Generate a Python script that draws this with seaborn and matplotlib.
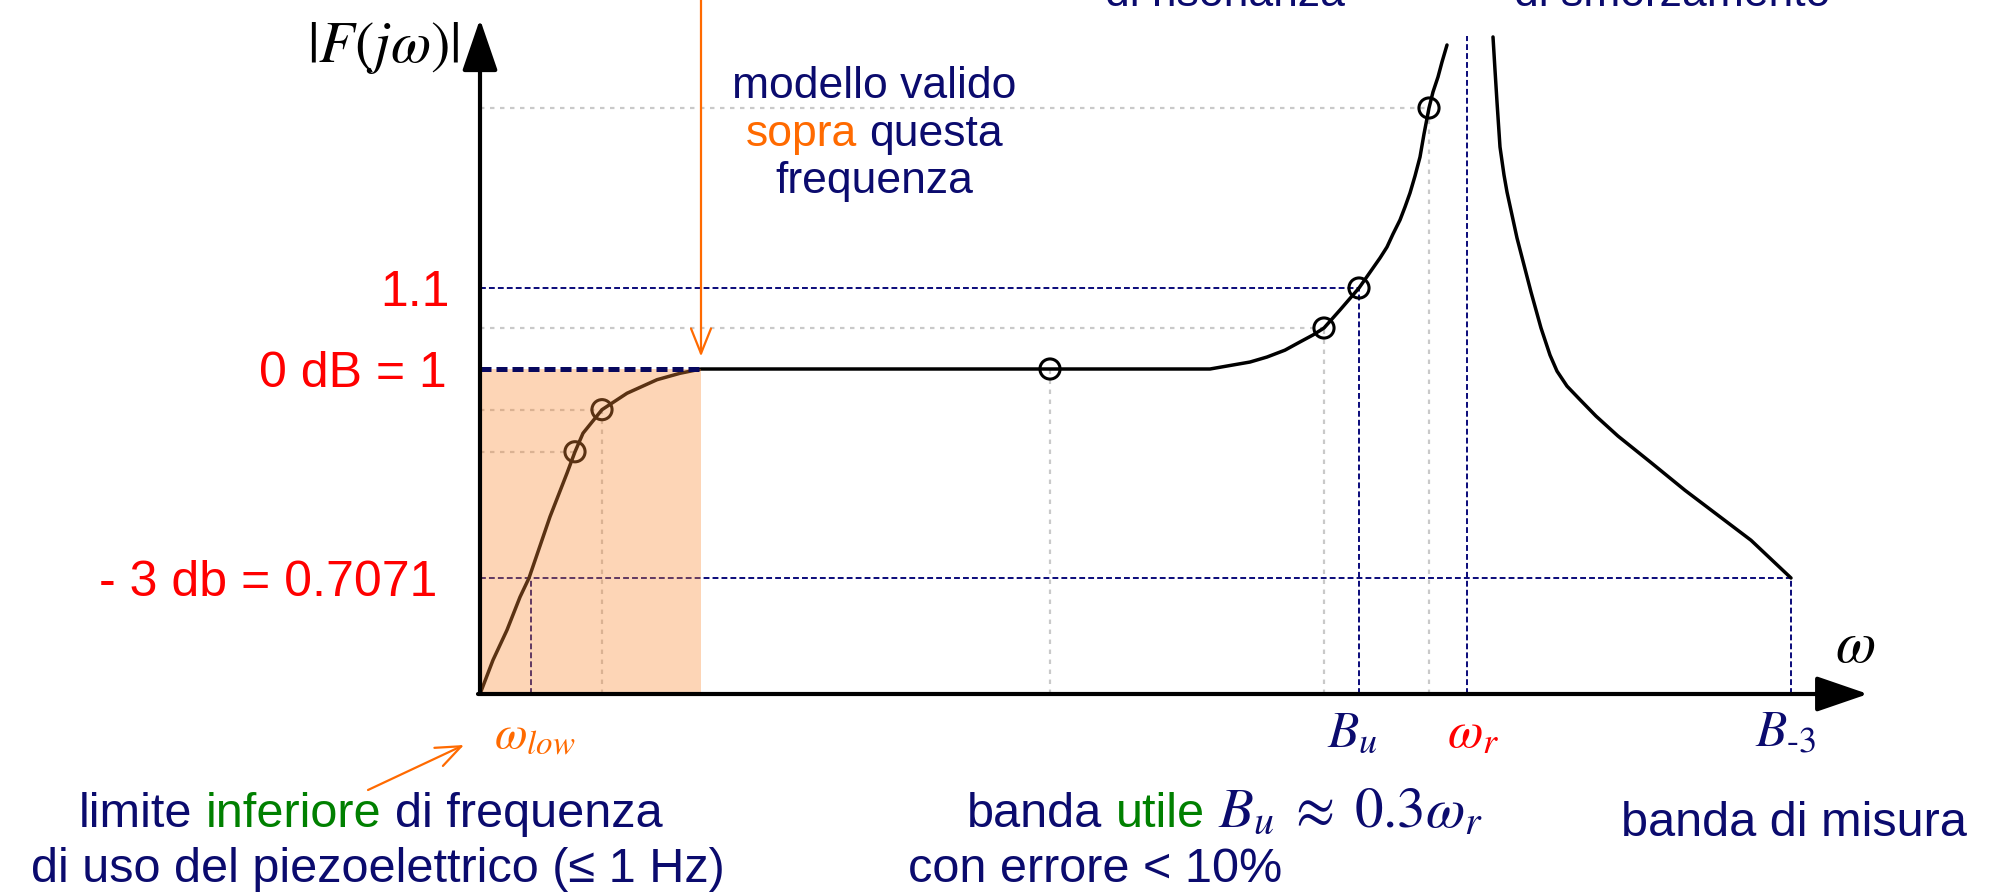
import numpy as np
import matplotlib
matplotlib.use("Agg")
import matplotlib.pyplot as plt
import matplotlib.transforms as mtransforms
import seaborn as sns

# ---------------------------------------------------------------- data
# schematic positions along the ω axis and |F(jω)| along the response
rise_w = [0.00, 0.13, 0.27, 0.40, 0.49, 0.70, 0.87, 0.95, 1.03, 1.22, 1.47,
          1.77, 2.00, 2.21, 5.70, 7.30, 7.53, 7.70, 7.87, 8.05, 8.20, 8.33,
          8.44, 8.60, 8.79, 8.86, 8.93, 9.00, 9.07, 9.13, 9.20, 9.25, 9.30,
          9.35, 9.40, 9.44, 9.49, 9.53, 9.58, 9.62, 9.67]
rise_mag = [0.000, 0.207, 0.390, 0.591, 0.7071, 0.793, 0.854, 0.884, 0.910, 0.943, 0.966,
            0.985, 0.994, 1.000, 1.000, 1.000, 1.0049, 1.0085, 1.0146, 1.023, 1.033, 1.0415,
            1.050, 1.0725, 1.100, 1.150, 1.200, 1.250, 1.305, 1.370, 1.440, 1.505, 1.575,
            1.660, 1.755, 1.870, 2.000, 2.150, 2.290, 2.430, 2.589]
fall_w = [10.13, 10.15, 10.17, 10.20, 10.24, 10.27, 10.32, 10.37, 10.44, 10.51,
          10.61, 10.70, 10.77, 10.87, 11.00, 11.16, 11.38, 11.70, 12.05, 12.38,
          12.71, 13.11]
fall_mag = [2.664, 2.355, 2.056, 1.805, 1.665, 1.580, 1.465, 1.350, 1.215, 1.095,
            1.050, 1.017, 0.997, 0.976, 0.957, 0.934, 0.906, 0.870, 0.830, 0.795,
            0.760, 0.7071]

# marked points on the curve
marker_w = [0.95, 1.22, 5.70, 8.44, 8.79, 9.49]
marker_mag = [0.884, 0.943, 1.000, 1.050, 1.100, 2.000]

# reference levels and frequencies
mag_3db, mag_unity, mag_err = 0.7071, 1.0, 1.1
w_low, w_model, w_bu, w_r, w_b3 = 0.51, 2.21, 8.79, 9.87, 13.11
w_axis_end, mag_axis_end, mag_wr_top = 13.88, 2.83, 2.67

level_values = [mag_err, mag_unity, mag_3db]
level_labels = ["1.1", "0 dB = 1", "- 3 db = 0.7071"]

# ---------------------------------------------------------------- style
sns.set_theme(style="white")
SANS = ["Liberation Sans", "DejaVu Sans"]
plt.rcParams["font.family"] = SANS
plt.rcParams["mathtext.fontset"] = "stix"

NAVY = "#0b0b6e"
NAVY_LINE = "#0a0a7a"
RED = "#ff0000"
ORANGE = "#ff6a00"
GREEN = "#008000"
GRAY = "#c9c9c9"

W, H = 1995, 896
fig = plt.figure(figsize=(W / 100, H / 100), dpi=100)
ax = fig.add_axes([0, 0, 1, 1])
ax.axis("off")

# pixel frame (origin top-left) for free-standing annotations
px_tr = mtransforms.Affine2D().scale(1 / W, -1 / H).translate(0, 1) + fig.transFigure

# ---------------------------------------------------------------- curve
curve_kw = dict(estimator=None, sort=False, color="black", lw=2.5, ax=ax,
                zorder=2, solid_joinstyle="round", solid_capstyle="round")
sns.lineplot(x=rise_w, y=rise_mag, **curve_kw)
sns.lineplot(x=fall_w, y=fall_mag, **curve_kw)
sns.scatterplot(x=marker_w, y=marker_mag, s=210, facecolor="none",
                edgecolor="black", linewidth=2.2, ax=ax, zorder=2.2)

# light guide lines from the marked points
gray_ls = (0, (2, 2.5))
for w, m in zip(marker_w, marker_mag):
    if m != mag_err and m != mag_unity:
        ax.plot([0, w], [m, m], color=GRAY, lw=1.6, ls=gray_ls, zorder=1)
for w, m in zip(marker_w, marker_mag):
    if w not in (marker_w[0], w_bu):
        ax.plot([w, w], [0, m], color=GRAY, lw=1.6, ls=gray_ls, zorder=1)

# reference levels and band limits
thin = dict(color=NAVY_LINE, lw=1.4, ls=(0, (3, 1.6)), zorder=1.5)
ax.plot([0, w_bu], [mag_err, mag_err], **thin)
ax.plot([w_bu, w_bu], [0, mag_err], **thin)
ax.plot([0, w_b3], [mag_3db, mag_3db], **thin)
ax.plot([w_b3, w_b3], [0, mag_3db], **thin)
ax.plot([w_low, w_low], [0, mag_3db], **thin)
ax.plot([w_r, w_r], [0, mag_wr_top], **thin)
ax.plot([0, w_model], [mag_unity, mag_unity], color="#08085e", lw=3.6,
        ls=(0, (2.2, 1.0)), zorder=4)

# region below the validity frequency
ax.fill_between([0, w_model], 0, mag_unity, color="#fa8b35", alpha=0.36,
                lw=0, zorder=3)

# ---------------------------------------------------------------- scales
x_left, x_right = -4.80, 15.15
scale_mag = [-10.0, 0.0, 0.7071, 1.0, 1.05, 1.1, 2.0, 10.0]
scale_pos = [-1610, 0, 116, 325, 366, 406, 586, 1442]


def fwd(m):
    return np.interp(np.asarray(m, dtype=float), scale_mag, scale_pos)


def inv(p):
    return np.interp(np.asarray(p, dtype=float), scale_pos, scale_mag)


ax.set_yscale("function", functions=(fwd, inv))
y_bottom, y_top = float(inv(-202)), float(inv(694))
ax.set_xlim(x_left, x_right)
ax.set_ylim(y_bottom, y_top)

# ---------------------------------------------------------------- axes arrows
axis_arrow = dict(arrowstyle="-|>,head_length=1.6,head_width=0.55",
                  color="black", lw=3, mutation_scale=20, shrinkA=0, shrinkB=0)
ax.annotate("", xy=(0, mag_axis_end), xytext=(0, 0), arrowprops=axis_arrow,
            zorder=5)
ax.annotate("", xy=(w_axis_end, 0), xytext=(-0.02, 0), arrowprops=axis_arrow,
            zorder=5)

orange_arrow = dict(arrowstyle="->,head_length=0.9,head_width=0.36",
                    color=ORANGE, lw=1.6, mutation_scale=20, shrinkA=0, shrinkB=0)
ax.annotate("", xy=(w_model, mag_unity), xytext=(w_model, y_top),
            arrowprops={**orange_arrow, "shrinkB": 9}, zorder=5)
ax.annotate("", xy=(464, 745), xycoords=px_tr, xytext=(368, 790),
            textcoords=px_tr, arrowprops=orange_arrow, zorder=5)

# ---------------------------------------------------------------- labels
level_dx = [-21.6, -23.8, -31.0]
for val, lbl, dx in zip(level_values, level_labels, level_dx):
    ax.annotate(lbl, xy=(0, val), xytext=(dx, -13), textcoords="offset points",
                ha="right", va="baseline", color=RED, fontsize=36)

ax.annotate(r"$B_u$", xy=(w_bu, 0), xytext=(-5, -38), textcoords="offset points",
            ha="center", va="baseline", color=NAVY, fontsize=37)
ax.annotate(r"$\omega_r$", xy=(w_r, 0), xytext=(4, -38), textcoords="offset points",
            ha="center", va="baseline", color=RED, fontsize=37)
ax.annotate(r"$B_{\text{-}\mathit{3}}$", xy=(w_b3, 0), xytext=(-4, -38),
            textcoords="offset points", ha="center", va="baseline",
            color=NAVY, fontsize=37)
ax.annotate(r"$\omega_{low}$", xy=(w_low, 0), xytext=(-27, -39),
            textcoords="offset points", ha="left", va="baseline",
            color=ORANGE, fontsize=34)

fig.text(383, 48, r"$|F(j\omega)|$", transform=px_tr, ha="center", va="center",
         fontsize=42, color="black")
fig.text(1855, 662, r"$\omega$", transform=px_tr, ha="center", va="baseline",
         fontsize=42, color="black")

renderer = fig.canvas.get_renderer()


def text_width(s, fs):
    t = fig.text(0, 0, s, fontsize=fs)
    w = t.get_window_extent(renderer).width
    t.remove()
    return w


def text_line(parts, x, y, ha="center", size=35):
    """Draw a line made of differently coloured words on one baseline."""
    gap = text_width("n n", size) - text_width("nn", size)
    arts, widths = [], []
    for s, color, fs in parts:
        t = fig.text(0, 0, s, color=color, fontsize=fs or size, ha="left",
                     va="baseline", transform=px_tr)
        arts.append(t)
        widths.append(t.get_window_extent(renderer).width)
    total = sum(widths) + gap * (len(arts) - 1)
    x0 = x - total / 2 if ha == "center" else x
    for t, w in zip(arts, widths):
        t.set_position((x0, y))
        x0 += w + gap


# validity note
text_line([("modello valido", NAVY, None)], 874, 98, size=32)
text_line([("sopra", ORANGE, None), ("questa", NAVY, None)], 874, 146, size=32)
text_line([("frequenza", NAVY, None)], 874, 193, size=32)

# notes above the resonance
text_line([("di risonanza", NAVY, None)], 1225, 6, size=32)
text_line([("di smorzamento", NAVY, None)], 1672, 6, size=32)

# notes below the axis
text_line([("limite", NAVY, None), ("inferiore", GREEN, None),
           ("di frequenza", NAVY, None)], 371, 827, size=35)
text_line([("di uso del piezoelettrico (≤ 1 Hz)", NAVY, None)], 378, 882, size=35)
text_line([("banda", NAVY, None), ("utile", GREEN, None),
           (r"$B_u \;\approx\; 0.3\omega_r$", NAVY, 41)], 967, 827, ha="left", size=35)
text_line([("con errore < 10%", NAVY, None)], 1095, 882, size=35)
text_line([("banda di misura", NAVY, None)], 1794, 836, size=35)

fig.savefig("out.png", dpi=100, facecolor="white")
